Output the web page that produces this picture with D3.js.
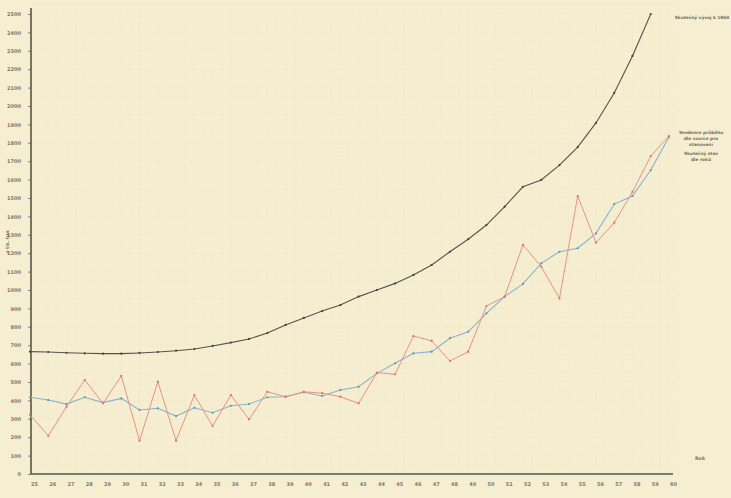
<!DOCTYPE html>
<html>
<head>
<meta charset="utf-8">
<script src="https://cdn.jsdelivr.net/npm/d3@7"></script>
<style>
  html, body { margin: 0; padding: 0; background: #f6eed0; }
  svg { display: block; }
  text { font-family: "DejaVu Sans", sans-serif; }
</style>
</head>
<body>
<svg id="chart" width="731" height="498"></svg>
<script>
// ---- data ----
const years = d3.range(25, 61); // 25 .. 60
const yTicks = d3.range(0, 2600, 100);
const blackYears = d3.range(25, 60); // 25 .. 59
const blackValues = [665, 663, 659, 656, 654, 654, 658, 663, 670, 679, 696, 714, 734, 766, 810, 848, 886, 918, 964, 1000, 1036, 1082, 1136, 1208, 1276, 1353, 1453, 1561, 1598, 1679, 1777, 1908, 2071, 2272, 2500];
const blueValues = [417, 402, 380, 417, 388, 411, 348, 357, 315, 360, 333, 371, 380, 417, 420, 444, 424, 457, 474, 547, 602, 656, 665, 738, 773, 873, 964, 1033, 1145, 1208, 1227, 1308, 1467, 1511, 1652, 1832];
const redValues = [321, 208, 366, 511, 384, 533, 181, 502, 181, 429, 261, 429, 297, 447, 420, 447, 439, 420, 384, 551, 542, 750, 724, 614, 665, 913, 964, 1245, 1127, 955, 1511, 1257, 1366, 1533, 1728, 1837];
const topLabel = ["Skutečný vývoj k 1960"];
const midLabel1 = ["Tendence průběhu", "dle vzorce pro", "stanovení"];
const midLabel2 = ["Skutečný stav", "dle roků"];
const yTitle = "v tis. tun";
const xTitle = "Rok";

// ---- layout ----
const svg = d3.select("#chart");
const x = d3.scaleLinear().domain([25, 60]).range([30, 669]);
const y = d3.scaleLinear().domain([0, 2500]).range([474, 14]);
const axisX = 31;

// faint graph-paper grid
const grid = svg.append("g").attr("stroke", "#e8dcb4").attr("stroke-width", 0.5).attr("opacity", 0.35);
grid.selectAll("line.h").data(d3.range(0, 2551, 50)).join("line")
  .attr("x1", axisX).attr("x2", 675).attr("y1", d => y(d)).attr("y2", d => y(d));
grid.selectAll("line.v").data(d3.range(25, 60.01, 0.5)).join("line")
  .attr("y1", 8).attr("y2", 474).attr("x1", d => x(d)).attr("x2", d => x(d));

// y axis
const yAxis = d3.axisLeft(y).tickValues(yTicks).tickSize(3).tickPadding(7).tickFormat(d3.format("d"));
const gy = svg.append("g").attr("transform", `translate(${axisX},0)`).call(yAxis);
gy.select(".domain").remove();
gy.selectAll(".tick line").attr("stroke", "#6a6a5c").attr("stroke-width", 0.8);
gy.selectAll(".tick text").attr("fill", "#7a7a6c").attr("font-size", 5).attr("font-weight", "bold");
svg.append("line").attr("x1", axisX).attr("x2", axisX).attr("y1", 8).attr("y2", y(0))
  .attr("stroke", "#55554a").attr("stroke-width", 1.6);

// x axis
const xAxis = d3.axisBottom(x).tickValues(years).tickSize(0).tickPadding(8).tickFormat(d => d);
const gx = svg.append("g").attr("transform", `translate(0,${y(0)})`).call(xAxis);
gx.select(".domain").remove();
gx.selectAll(".tick text").attr("fill", "#7a7a6c").attr("font-size", 5).attr("font-weight", "bold").attr("dx", 4);
svg.append("line").attr("x1", axisX).attr("x2", 673).attr("y1", y(0)).attr("y2", y(0))
  .attr("stroke", "#55554a").attr("stroke-width", 1.6);

// lines
const line = d3.line().x(d => x(d[0])).y(d => y(d[1]));
function series(xs, vals, stroke, dot, width) {
  const data = xs.map((yr, i) => [yr, vals[i]]);
  svg.append("path").datum(data).attr("fill", "none").attr("stroke", stroke)
    .attr("stroke-width", width).attr("d", line);
  svg.append("g").selectAll("circle").data(data).join("circle")
    .attr("cx", d => x(d[0])).attr("cy", d => y(d[1])).attr("r", 1.1).attr("fill", dot);
}
series(blackYears, blackValues, "#55554b", "#45453c", 1.1);
series(years, blueValues, "#86b4cd", "#6494b0", 1.1);
series(years, redValues, "#ec9282", "#da7363", 1.0);

// side labels
const lab = svg.append("g").attr("fill", "#707062").attr("font-size", 4.3).attr("font-weight", "bold").attr("text-anchor", "middle");
lab.selectAll("text.t").data(topLabel).join("text").attr("x", 702).attr("y", 19).text(d => d);
lab.selectAll("text.m1").data(midLabel1).join("text").attr("x", 701).attr("y", (d, i) => 134 + i * 5.8).text(d => d);
lab.selectAll("text.m2").data(midLabel2).join("text").attr("x", 701).attr("y", (d, i) => 155 + i * 5.8).text(d => d);

// axis titles
svg.append("text").attr("transform", "translate(9,242) rotate(-90)").attr("text-anchor", "middle")
  .attr("font-size", 4.6).attr("fill", "#7a7a6c").attr("font-weight", "bold").text(yTitle);
svg.append("text").attr("x", 700).attr("y", 460).attr("text-anchor", "middle")
  .attr("font-size", 4.8).attr("fill", "#7a7a6c").attr("font-weight", "bold").text(xTitle);
</script>
</body>
</html>
